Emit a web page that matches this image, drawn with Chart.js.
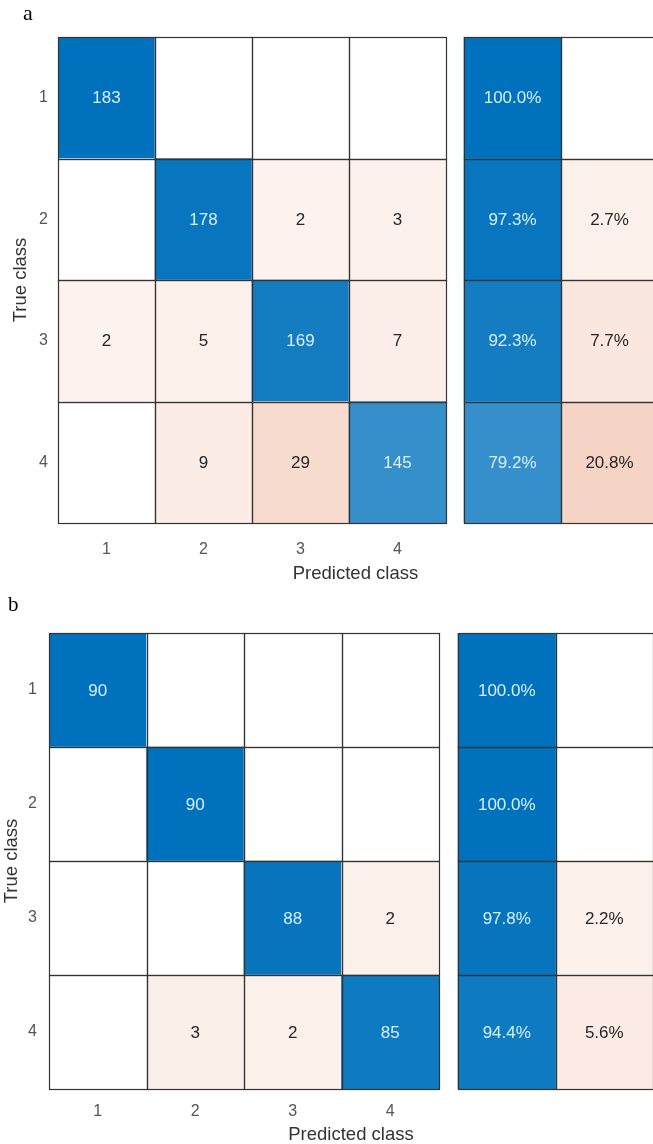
<!DOCTYPE html>
<html>
<head>
<meta charset="utf-8">
<script src="https://cdn.jsdelivr.net/npm/chart.js@4.4.1/dist/chart.umd.min.js"></script>
<style>
  html, body { margin: 0; padding: 0; background: #fff; overflow: hidden; }
  #page { position: relative; width: 653px; height: 1144px; background: #fff; }
  .panel { position: absolute; left: 0; width: 653px; }
  .tag { position: absolute; font-family: 'Liberation Serif', 'Times New Roman', serif; line-height: 1; color: #000; }
</style>
</head>
<body>
<div id="page">
  <div class="panel" style="top:0; height:600px;"><canvas id="chartA"></canvas></div>
  <div class="panel" style="top:595px; height:549px;"><canvas id="chartB"></canvas></div>
  <div class="tag" style="left:23px; top:2px; font-size:22px;">a</div>
  <div class="tag" style="left:8px; top:594px; font-size:21px;">b</div>
</div>
<script>
// ==========================================
// DATA
// ==========================================
const classLabels = ['1', '2', '3', '4'];

// (a) confusion counts, rows = true class, cols = predicted class
const countsA = [
  [183, 0, 0, 0],
  [0, 178, 2, 3],
  [2, 5, 169, 7],
  [0, 9, 29, 145],
];
const correctPctA = [100.0, 97.3, 92.3, 79.2];
const wrongPctA = [0, 2.7, 7.7, 20.8];

// (b)
const countsB = [
  [90, 0, 0, 0],
  [0, 90, 0, 0],
  [0, 0, 88, 2],
  [0, 3, 2, 85],
];
const correctPctB = [100.0, 100.0, 97.8, 94.4];
const wrongPctB = [0, 0, 2.2, 5.6];

// ==========================================
// HELPERS
// ==========================================
const FONT = "'Liberation Sans', Arial, Helvetica, sans-serif";

function blue(t) {
  // white -> MATLAB blue
  return 'rgb(' + Math.round(255 - t * 255) + ',' + Math.round(255 - t * 141) + ',' + Math.round(255 - t * 66) + ')';
}

function orange(t) {
  // white -> MATLAB orange, faint floor so small counts still tint
  if (t <= 0) return '#ffffff';
  const k = 0.065 + 0.9 * t;
  return 'rgb(' + Math.round(255 - k * 38) + ',' + Math.round(255 - k * 172) + ',' + Math.round(255 - k * 230) + ')';
}

// outlines + numbers on every cell
const cellTextPlugin = {
  id: 'cellText',
  afterDatasetsDraw(chart) {
    const ctx = chart.ctx;
    ctx.save();
    chart.data.datasets.forEach(function (ds, i) {
      chart.getDatasetMeta(i).data.forEach(function (bar, j) {
        const p = bar.getProps(['x', 'y', 'base', 'height'], true);
        const l = Math.round(Math.min(p.x, p.base)) + 0.5;
        const r = Math.round(Math.max(p.x, p.base)) + 0.5;
        const t = Math.round(p.y - p.height / 2) + 0.5;
        const b = Math.round(p.y + p.height / 2) + 0.5;
        ctx.strokeStyle = '#333333';
        ctx.lineWidth = 1.2;
        ctx.strokeRect(l, t, r - l, b - t);

        const raw = ds.data[j];
        if (!raw.v) return;
        ctx.fillStyle = raw.strong ? '#d8eefb' : '#262626';
        ctx.font = '17px ' + FONT;
        ctx.textAlign = 'center';
        ctx.textBaseline = 'middle';
        ctx.fillText(ds.fmt(raw.v), (p.x + p.base) / 2, p.y + 1);
      });
    });
    ctx.restore();
  },
};

function buildMatrix(canvasId, counts, correctPct, wrongPct, g) {
  const maxCount = Math.max.apply(null, counts.map(function (row) { return Math.max.apply(null, row); }));
  const sumStart = 4 + g.gap / g.unit;
  const xMax = (653 - g.left) / g.unit;

  const cells = [];
  counts.forEach(function (row, r) {
    row.forEach(function (v, c) {
      cells.push({ y: classLabels[r], x: [c, c + 1], v: v, diag: r === c, strong: r === c && v / maxCount > 0.5 });
    });
  });
  const correct = correctPct.map(function (v, r) {
    return { y: classLabels[r], x: [sumStart, sumStart + 1], v: v, strong: v > 50 };
  });
  const wrong = wrongPct.map(function (v, r) {
    return { y: classLabels[r], x: [sumStart + 1, sumStart + 2], v: v, strong: false };
  });

  const common = {
    barPercentage: 1,
    categoryPercentage: 1,
    grouped: false,
    borderWidth: 0,
  };

  const data = {
    labels: classLabels,
    datasets: [
      Object.assign({
        label: 'Counts',
        data: cells,
        fmt: function (v) { return String(v); },
        backgroundColor: function (ctx) {
          const raw = ctx.raw;
          if (!raw) return '#fff';
          return raw.diag ? blue(raw.v / maxCount) : orange(raw.v / maxCount);
        },
      }, common),
      Object.assign({
        label: 'Correct',
        data: correct,
        fmt: function (v) { return v.toFixed(1) + '%'; },
        backgroundColor: function (ctx) { return ctx.raw ? blue(ctx.raw.v / 100) : '#fff'; },
      }, common),
      Object.assign({
        label: 'Wrong',
        data: wrong,
        fmt: function (v) { return v.toFixed(1) + '%'; },
        backgroundColor: function (ctx) { return ctx.raw ? orange(ctx.raw.v / 100) : '#fff'; },
      }, common),
    ],
  };

  const config = {
    type: 'bar',
    data: data,
    plugins: [cellTextPlugin],
    options: {
      indexAxis: 'y',
      responsive: true,
      maintainAspectRatio: false,
      animation: false,
      layout: { padding: { top: g.top, left: 0, right: 0, bottom: 0 } },
      plugins: {
        legend: { display: false },
        tooltip: { enabled: false },
      },
      scales: {
        x: {
          type: 'linear',
          min: 0,
          max: xMax,
          grid: { display: false, drawTicks: false },
          border: { display: false },
          afterBuildTicks: function (scale) {
            scale.ticks = classLabels.map(function (_, i) { return { value: i + 0.5 }; });
          },
          afterFit: function (scale) { scale.height = g.xAxisHeight; },
          ticks: {
            padding: g.xTickPad,
            color: '#555',
            autoSkip: false,
            maxRotation: 0,
            font: { size: 16, family: FONT },
            callback: function (value, index) { return classLabels[index]; },
          },
          title: {
            display: true,
            text: 'Predicted class',
            color: '#333',
            font: { size: 18.5, family: FONT, lineHeight: 1 },
            padding: { top: 0, bottom: g.xTitlePad },
          },
        },
        y: {
          type: 'category',
          offset: true,
          grid: { display: false, drawTicks: false },
          border: { display: false },
          afterFit: function (scale) { scale.width = g.left; },
          ticks: {
            padding: g.yTickPad,
            color: '#555',
            font: { size: 16, family: FONT },
          },
          title: {
            display: true,
            text: 'True class',
            color: '#333',
            font: { size: 18.5, family: FONT, lineHeight: 1 },
            padding: { top: g.yTitlePad, bottom: 0 },
          },
        },
      },
    },
  };

  return new Chart(document.getElementById(canvasId), config);
}

// ==========================================
// (a)
// ==========================================
const chartA = buildMatrix('chartA', countsA, correctPctA, wrongPctA, {
  top: 37, left: 58, unit: 97, gap: 18,
  xAxisHeight: 77, xTickPad: 17, xTitlePad: 17, yTickPad: 10, yTitlePad: 12,
});

// ==========================================
// (b)
// ==========================================
const chartB = buildMatrix('chartB', countsB, correctPctB, wrongPctB, {
  top: 38, left: 49, unit: 97.5, gap: 19,
  xAxisHeight: 55, xTickPad: 13, xTitlePad: 0, yTickPad: 12, yTitlePad: 3,
});
</script>
</body>
</html>
